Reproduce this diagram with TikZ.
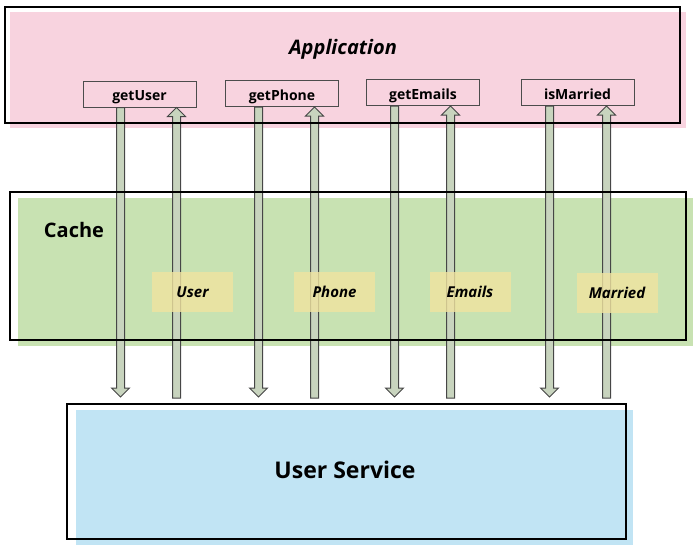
\documentclass[tikz,border=0pt]{standalone}
\usepackage{fontspec}
\setmainfont{Open Sans}
\usetikzlibrary{calc}
\definecolor{apppink}{RGB}{248,211,223}
\definecolor{cachegreen}{RGB}{200,226,178}
\definecolor{svcblue}{RGB}{193,228,244}
\definecolor{labelyellow}{RGB}{240,228,160}
\definecolor{arrowfill}{RGB}{200,212,190}
\definecolor{arrowline}{RGB}{70,70,70}
\newcommand{\blkdown}[2]{\draw[arrowbody] let \p1=(#1), \p2=(#2) in
  ({\x1-4pt},\y1) -- ({\x1+4pt},\y1) -- ({\x1+4pt},{\y2+9pt}) -- ({\x1+9pt},{\y2+9pt})
  -- (\x1,\y2) -- ({\x1-9pt},{\y2+9pt}) -- ({\x1-4pt},{\y2+9pt}) -- cycle;}
\newcommand{\blkup}[2]{\draw[arrowbody] let \p1=(#1), \p2=(#2) in
  ({\x1-4pt},\y1) -- ({\x1+4pt},\y1) -- ({\x1+4pt},{\y2-9pt}) -- ({\x1+9pt},{\y2-9pt})
  -- (\x1,\y2) -- ({\x1-9pt},{\y2-9pt}) -- ({\x1-4pt},{\y2-9pt}) -- cycle;}
\begin{document}
\begin{tikzpicture}[x=1pt,y=-1pt,
  outline/.style={draw=black, line width=1.6pt, inner sep=0pt, anchor=north west},
  method/.style={draw=black!70, line width=1pt, fill=apppink, minimum width=113pt,
    minimum height=26pt, inner sep=0pt, text depth=0pt, text height=13pt,
    font=\bfseries\fontsize{14}{16}\selectfont},
  valuelabel/.style={fill=labelyellow, fill opacity=0.8, text opacity=1, minimum width=81pt,
    minimum height=40pt, inner sep=0pt, font=\bfseries\itshape\fontsize{15}{17}\selectfont},
  arrowbody/.style={draw=arrowline, line width=1pt, fill=arrowfill, line join=miter},
  title/.style={inner sep=0pt, font=\bfseries\fontsize{20}{24}\selectfont}]
\useasboundingbox (0,0) rectangle (696,550);
% offset fills (sketch look)
\fill[apppink] (10,12) rectangle (686,128);
\fill[cachegreen] (18,198) rectangle (693,346);
\fill[svcblue] (76,410) rectangle (633,545);
% method boxes
\node[method] (getUser) at (139.5,94) {getUser};
\node[method] (getPhone) at (282,93.5) {getPhone};
\node[method] (getEmails) at (423,92.5) {getEmails};
\node[method] (isMarried) at (577.5,92.5) {isMarried};
% arrow end points
\coordinate (d1s) at ($(getUser.south west)+(38,0)$);
\coordinate (u1s) at ($(getUser.south west)+(94,0)$);
\coordinate (d2s) at ($(getPhone.south west)+(33.5,0)$);
\coordinate (u2s) at ($(getPhone.south west)+(89.5,0)$);
\coordinate (d3s) at ($(getEmails.south west)+(28.5,0)$);
\coordinate (u3s) at ($(getEmails.south west)+(84.5,0)$);
\coordinate (d4s) at ($(isMarried.south west)+(29,0)$);
\coordinate (u4s) at ($(isMarried.south west)+(86,0)$);
\coordinate (d1e) at (d1s |- 0,397);
\coordinate (d2e) at (d2s |- 0,397);
\coordinate (d3e) at (d3s |- 0,397);
\coordinate (d4e) at (d4s |- 0,397);
\coordinate (u1e) at (u1s |- 0,398);
\coordinate (u2e) at (u2s |- 0,398);
\coordinate (u3e) at (u3s |- 0,398);
\coordinate (u4e) at (u4s |- 0,398);
% arrows
\blkdown{d1s}{d1e} \blkup{u1e}{u1s}
\blkdown{d2s}{d2e} \blkup{u2e}{u2s}
\blkdown{d3s}{d3e} \blkup{u3e}{u3s}
\blkdown{d4s}{d4e} \blkup{u4e}{u4s}
% outlines
\node[outline, minimum width=675pt, minimum height=116pt] (app) at (4,6) {};
\node[outline, minimum width=676pt, minimum height=148pt] (cache) at (9,191) {};
\node[outline, minimum width=559pt, minimum height=135pt] (svc) at (66,403) {};
% cached values
\node[valuelabel] (vUser) at (192.5,292) {User};
\node[valuelabel] (vPhone) at (334.5,292) {Phone};
\node[valuelabel] (vEmails) at (470,292) {Emails};
\node[valuelabel] (vMarried) at (617,292.5) {Married};
% titles
\node[title, font=\bfseries\itshape\fontsize{20}{24}\selectfont] (appTitle) at (343,49) {Application};
\node[title] (cacheTitle) at (74,230) {Cache};
\node[title, font=\bfseries\fontsize{23}{28}\selectfont] (svcTitle) at (345,470) {User Service};
\end{tikzpicture}
\end{document}
